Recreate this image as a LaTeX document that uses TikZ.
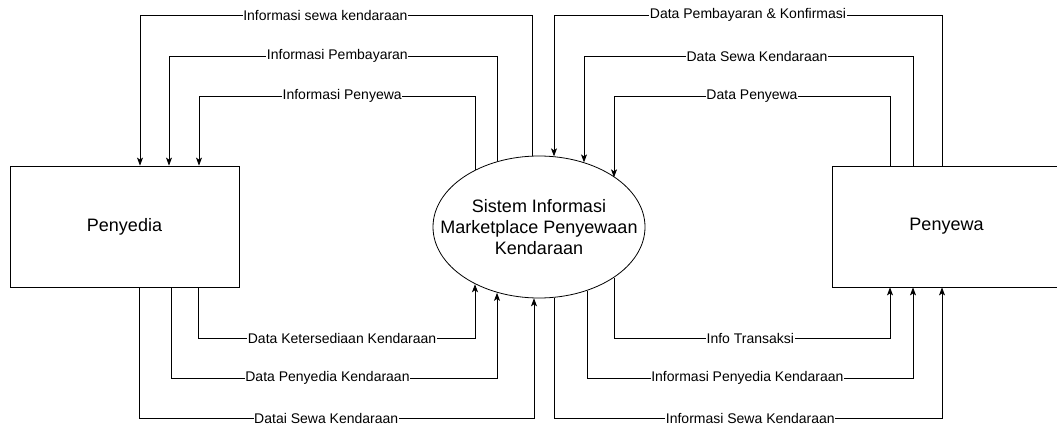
\documentclass[tikz,border=0pt]{standalone}
\usepackage{fontspec}
\setmainfont{Liberation Sans}
\usetikzlibrary{arrows.meta,shapes.geometric}

\tikzset{
  entity/.style={draw, line width=0.8pt, minimum width=229pt, minimum height=121pt, font=\fontsize{18}{21}\selectfont},
  process/.style={draw, ellipse, line width=0.8pt, minimum width=212pt, minimum height=142pt, inner xsep=-32pt, inner ysep=0pt, align=center, font=\fontsize{18}{21}\selectfont},
  flow/.style={line width=0.8pt, -{Stealth[length=8pt,width=6pt,inset=2pt]}},
  lbl/.style={fill=white, inner sep=0.5pt, font=\fontsize{14}{16}\selectfont}
}

\begin{document}
\begin{tikzpicture}[x=1pt, y=-1pt]
  \useasboundingbox (0,0) rectangle (1057,428);
  %Define nodes
  \node[entity]  (penyedia) at (124.5,226.5) {Penyedia};
  \node[process] (sistem)   at (539,227) {Sistem Informasi\\Marketplace Penyewaan\\Kendaraan};
  \node[entity]  (penyewa)  at (946.5,226.5) {Penyewa};

  % Flows from the system to Penyedia
  \draw[flow] (sistem.95.6) |- node[lbl, pos=0.764] {Informasi sewa kendaraan} (140,15) -- (140,15 |- penyedia.north);
  \draw[flow] (sistem.122.8) |- node[lbl, pos=0.744] {Informasi Pembayaran} (169,56) -- (169,56 |- penyedia.north);
  \draw[flow] (sistem.138.5) |- node[lbl, pos=0.741] {Informasi Penyewa} (199,96) -- (199,96 |- penyedia.north);

  % Flows from Penyewa to the system
  \draw[flow] (942,0 |- penyewa.north) |- node[lbl, pos=0.75] {Data Pembayaran \& Konfirmasi} (554,15) -- (554,15 |- sistem.78);
  \draw[flow] (913,0 |- penyewa.north) |- node[lbl, pos=0.737] {Data Sewa Kendaraan} (584,56) -- (584,56 |- sistem.55);
  \draw[flow] (890,0 |- penyewa.north) |- node[lbl, pos=0.75] {Data Penyewa} (614,96) -- (614,96 |- sistem.33.8);

  % Flows from Penyedia to the system
  \draw[flow] (198,0 |- penyedia.south) |- node[lbl, pos=0.76] {Data Ketersediaan Kendaraan} (475,338) -- (475,338 |- sistem.-138.5);
  \draw[flow] (171,0 |- penyedia.south) |- node[lbl, pos=0.74] {Data Penyedia Kendaraan} (497,378) -- (497,378 |- sistem.-122.8);
  \draw[flow] (139,0 |- penyedia.south) |- node[lbl, pos=0.737] {Datai Sewa Kendaraan} (534,418) -- (534,418 |- sistem.-94);

  % Flows from the system to Penyewa
  \draw[flow] (sistem.-34.5) |- node[lbl, pos=0.747] {Info Transaksi} (890,338) -- (890,338 |- penyewa.south);
  \draw[flow] (sistem.-53.5) |- node[lbl, pos=0.746] {Informasi Penyedia Kendaraan} (913,378) -- (913,378 |- penyewa.south);
  \draw[flow] (sistem.-78) |- node[lbl, pos=0.753] {Informasi Sewa Kendaraan} (942,418) -- (942,418 |- penyewa.south);
\end{tikzpicture}
\end{document}
